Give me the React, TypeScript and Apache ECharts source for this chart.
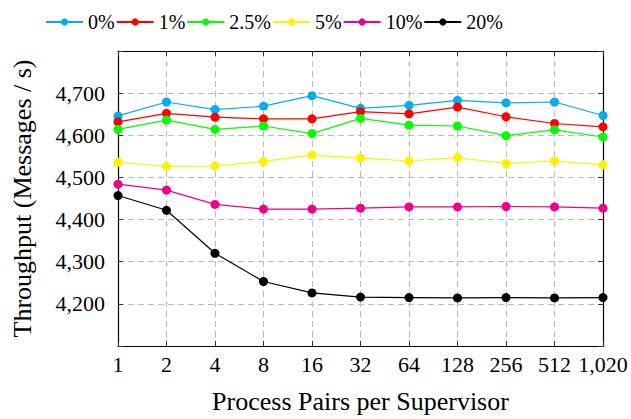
import React, { useEffect, useRef } from "react";
import * as echarts from "echarts";

const categories = ["1", "2", "4", "8", "16", "32", "64", "128", "256", "512", "1,020"];
const seriesNames = ["0%", "1%", "2.5%", "5%", "10%", "20%"];
const colors = ["#00AEEF", "#FF0000", "#00FF00", "#FFF200", "#EC008C", "#000000"];
const s0 = [4646, 4679, 4661, 4669, 4694, 4664, 4671, 4683, 4677, 4679, 4647];
const s1 = [4632, 4652, 4643, 4639, 4639, 4656, 4651, 4667, 4644, 4628, 4620];
const s25 = [4614, 4636, 4614, 4622, 4604, 4640, 4624, 4622, 4599, 4613, 4596];
const s5 = [4536, 4526, 4527, 4538, 4553, 4546, 4539, 4547, 4533, 4539, 4530];
const s10 = [4484, 4470, 4436, 4425, 4425, 4427, 4430, 4430, 4431, 4430, 4427];
const s20 = [4457, 4422, 4320, 4253, 4226, 4216, 4215, 4214, 4215, 4214, 4215];
const allSeries = [s0, s1, s25, s5, s10, s20];

const FONT = "'Liberation Serif', 'DejaVu Serif', serif";

export default function App() {
  const ref = useRef<HTMLDivElement>(null);
  useEffect(() => {
    if (!ref.current) return;
    const chart = echarts.init(ref.current, null, { renderer: "svg" });
    const tickStyle = { show: true, inside: true, length: 5, lineStyle: { color: "#333", width: 1 } };
    const labelStyle = { fontFamily: FONT, fontSize: 22, color: "#000" };
    chart.setOption({
      animation: false,
      textStyle: { fontFamily: FONT, color: "#000" },
      legend: {
        top: 7,
        left: 40,
        itemGap: 1,
        itemWidth: 37,
        itemHeight: 9,
        textStyle: { fontFamily: FONT, fontSize: 20, color: "#000" },
        data: seriesNames,
      },
      grid: { left: 118, right: 28, top: 51, bottom: 72 },
      xAxis: [
        {
          type: "category",
          data: categories,
          boundaryGap: false,
          axisLine: { lineStyle: { color: "#000", width: 1.2 } },
          axisTick: { ...tickStyle, alignWithLabel: true },
          axisLabel: { ...labelStyle, margin: 7, interval: 0 },
          splitLine: { show: true, lineStyle: { color: "#bbb", type: [6, 4], width: 1 } },
          name: "Process Pairs per Supervisor",
          nameLocation: "middle",
          nameGap: 42,
          nameTextStyle: { fontFamily: FONT, fontSize: 26, color: "#000" },
        },
        {
          type: "category",
          data: categories,
          boundaryGap: false,
          position: "top",
          axisLine: { lineStyle: { color: "#000", width: 1.2 } },
          axisTick: { ...tickStyle, alignWithLabel: true },
          axisLabel: { show: false },
          splitLine: { show: false },
        },
      ],
      yAxis: [
        {
          type: "value",
          min: 4100,
          max: 4800,
          interval: 100,
          axisLine: { show: true, lineStyle: { color: "#000", width: 1.2 } },
          axisTick: tickStyle,
          axisLabel: {
            ...labelStyle,
            margin: 13,
            formatter: (v: number) => (v === 4100 || v === 4800 ? "" : v.toLocaleString("en-US")),
          },
          splitLine: { show: true, lineStyle: { color: "#bbb", type: [6, 4], width: 1 } },
          name: "Throughput (Messages / s)",
          nameLocation: "middle",
          nameRotate: 90,
          nameGap: 83,
          nameTextStyle: { fontFamily: FONT, fontSize: 26, color: "#000" },
        },
        {
          type: "value",
          min: 4100,
          max: 4800,
          interval: 100,
          position: "right",
          axisLine: { show: true, lineStyle: { color: "#000", width: 1.2 } },
          axisTick: tickStyle,
          axisLabel: { show: false },
          splitLine: { show: false },
        },
      ],
      series: allSeries.map((d, i) => ({
        type: "line",
        name: seriesNames[i],
        data: d,
        xAxisIndex: 0,
        yAxisIndex: 0,
        color: colors[i],
        symbol: "circle",
        symbolSize: 9,
        lineStyle: { width: 1.2, color: colors[i] },
        itemStyle: { color: colors[i] },
      })),
    });
    return () => chart.dispose();
  }, []);
  return <div ref={ref} style={{ width: 631, height: 419, position: "absolute", left: 0, top: 0 }} />;
}
